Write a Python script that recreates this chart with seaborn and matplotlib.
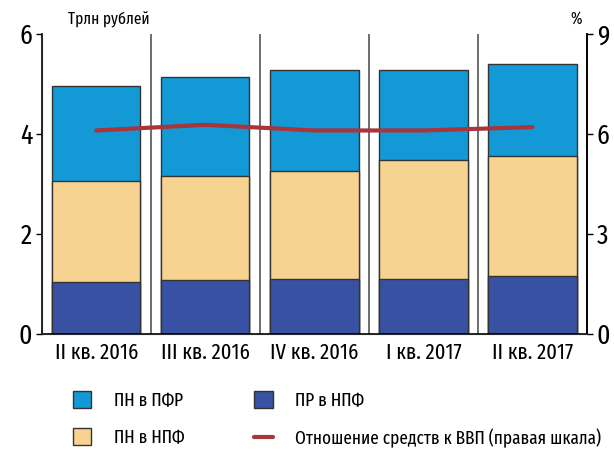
import matplotlib
matplotlib.use('Agg')
import matplotlib.pyplot as plt
import seaborn as sns
import pandas as pd
import numpy as np
from matplotlib.patches import Patch
from matplotlib.lines import Line2D

# data
quarters = ['II кв. 2016', 'III кв. 2016', 'IV кв. 2016', 'I кв. 2017', 'II кв. 2017']
pr_npf = [1.03, 1.07, 1.10, 1.10, 1.16]      # ПР в НПФ
pn_npf = [2.02, 2.08, 2.15, 2.38, 2.39]      # ПН в НПФ
pn_pfr = [1.90, 1.98, 2.02, 1.79, 1.84]      # ПН в ПФР
ratio_gdp = [6.1, 6.27, 6.1, 6.1, 6.2]       # Отношение средств к ВВП, %

c_pfr = '#1399d6'
c_npf = '#f7d391'
c_pr = '#3851a3'
c_line = '#a8343c'

sns.set_style('white')
plt.rcParams['font.family'] = ['Fira Sans Extra Condensed', 'DejaVu Sans']
plt.rcParams['text.color'] = 'black'
plt.rcParams['xtick.color'] = 'black'
plt.rcParams['ytick.color'] = 'black'

df = pd.DataFrame({'q': quarters, 'pr': pr_npf, 'npf': pn_npf, 'pfr': pn_pfr, 'gdp': ratio_gdp})
df['top2'] = df['pr'] + df['npf']
df['top3'] = df['top2'] + df['pfr']

fig = plt.figure(figsize=(6.14, 4.51), dpi=100)
ax = fig.add_axes([0.068, 0.26, 0.888, 0.665])

for col, c in [('top3', c_pfr), ('top2', c_npf), ('pr', c_pr)]:
    sns.barplot(data=df, x='q', y=col, color=c, width=0.81, saturation=1,
                edgecolor='#333333', linewidth=1.0, ax=ax)

ax.set_xlim(-0.5, 4.5)
ax.set_ylim(0, 6)
ax.set_yticks([0, 2, 4, 6])
ax.set_xlabel('')
ax.set_ylabel('')
for b in [0.5, 1.5, 2.5, 3.5]:
    ax.axvline(b, color='#555555', lw=1.2, zorder=0)
for s in ['left', 'bottom', 'right']:
    ax.spines[s].set_color('black')
    ax.spines[s].set_linewidth(1.2)
ax.spines['top'].set_visible(False)
ax.tick_params(axis='y', labelsize=20, length=4, width=1, direction='out', left=True, pad=3)
ax.tick_params(axis='x', labelsize=16, length=0, pad=6)

ax2 = ax.twinx()
sns.lineplot(x=np.arange(len(quarters)), y=df['gdp'], color=c_line, lw=3, ax=ax2)
ax2.set_ylim(0, 9)
ax2.set_yticks([0, 3, 6, 9])
ax2.set_ylabel('')
ax2.spines['top'].set_visible(False)
ax2.spines['right'].set_color('black')
ax2.spines['right'].set_linewidth(1.2)
ax2.tick_params(axis='y', labelsize=20, length=4, width=1, direction='out', right=True, pad=3)

fig.text(0.11, 0.958, 'Трлн рублей', fontsize=12, ha='left', va='center')
fig.text(0.948, 0.958, '%', fontsize=12, ha='right', va='center')

handles = [Patch(facecolor=c_pfr, edgecolor='#333333'),
           Patch(facecolor=c_npf, edgecolor='#333333'),
           Patch(facecolor=c_pr, edgecolor='#333333'),
           Line2D([0], [0], color=c_line, lw=3)]
labels = ['ПН в ПФР', 'ПН в НПФ', 'ПР в НПФ', 'Отношение средств к ВВП (правая шкала)']
fig.legend(handles, labels, ncol=2, loc='center left', bbox_to_anchor=(0.091, 0.07),
           frameon=False, fontsize=13.5, handlelength=1.0, handleheight=1.0,
           columnspacing=3.7, handletextpad=1.2, labelspacing=1.0)

fig.savefig('out.png', dpi=100)
